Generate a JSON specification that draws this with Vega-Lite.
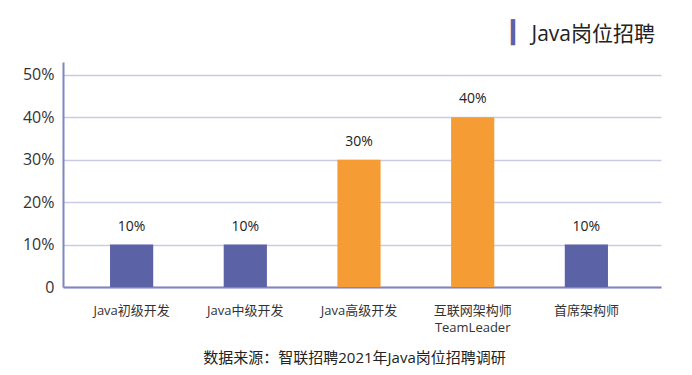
{
  "$schema": "https://vega.github.io/schema/vega-lite/v6.json",
  "autosize": {"type": "none"},
  "width": 598,
  "height": 225,
  "padding": {"left": 63, "top": 62, "right": 31, "bottom": 88},
  "background": "#ffffff",
  "config": {
    "view": {"stroke": null},
    "font": "Open Sans, Noto Sans CJK SC"
  },
  "title": {
    "text": "Java岗位招聘",
    "anchor": "end",
    "frame": "group",
    "fontSize": 21,
    "fontWeight": "normal",
    "font": "Open Sans, Noto Sans CJK SC",
    "color": "#222222",
    "offset": -24,
    "dx": -6
  },
  "data": {
    "values": [
      {"岗位": "Java初级开发", "占比": 0.10},
      {"岗位": "Java中级开发", "占比": 0.10},
      {"岗位": "Java高级开发", "占比": 0.30},
      {"岗位": "互联网架构师 TeamLeader", "占比": 0.40},
      {"岗位": "首席架构师", "占比": 0.10}
    ]
  },
  "encoding": {
    "x": {
      "field": "岗位",
      "type": "nominal",
      "sort": null,
      "scale": {"paddingInner": 0.62, "paddingOuter": 0.44, "align": 0.47},
      "axis": {
        "title": "数据来源：智联招聘2021年Java岗位招聘调研",
        "titleFontSize": 15,
        "titleFontWeight": "normal",
        "titleColor": "#222222",
        "titleX": 291,
        "titleY": 70,
        "titleBaseline": "middle",
        "labelAngle": 0,
        "labelFontSize": 13,
        "labelColor": "#333333",
        "labelPadding": 17,
        "labelExpr": "split(datum.label, ' ')",
        "labelLineHeight": 17,
        "ticks": false,
        "domainColor": "#7f84c2",
        "domainWidth": 2,
        "grid": false
      }
    },
    "y": {
      "field": "占比",
      "type": "quantitative",
      "scale": {"domain": [0, 0.53], "nice": false},
      "axis": {
        "title": "▎",
        "titleAngle": 0,
        "titleX": 456,
        "titleY": -30,
        "titleBaseline": "middle",
        "titleAlign": "center",
        "titleFontSize": 22,
        "titleFontWeight": "normal",
        "titleFont": "DejaVu Sans",
        "titleColor": "#5c62a6",
        "values": [0, 0.1, 0.2, 0.3, 0.4, 0.5],
        "labelExpr": "datum.value == 0 ? '0' : format(datum.value, '.0%')",
        "labelFontSize": 16,
        "labelColor": "#333333",
        "labelPadding": 9,
        "ticks": false,
        "domainColor": "#7f84c2",
        "domainWidth": 2,
        "grid": true,
        "gridColor": "#c9c9e8",
        "gridWidth": 1.5
      }
    }
  },
  "layer": [
    {
      "mark": {"type": "bar"},
      "encoding": {
        "color": {
          "field": "岗位",
          "type": "nominal",
          "scale": {
            "domain": ["Java初级开发", "Java中级开发", "Java高级开发", "互联网架构师 TeamLeader", "首席架构师"],
            "range": ["#5c62a6", "#5c62a6", "#f59c35", "#f59c35", "#5c62a6"]
          },
          "legend": null
        }
      }
    },
    {
      "mark": {"type": "text", "dy": -18, "fontSize": 14, "color": "#222222"},
      "encoding": {
        "text": {"field": "占比", "type": "quantitative", "format": ".0%"}
      }
    }
  ]
}
